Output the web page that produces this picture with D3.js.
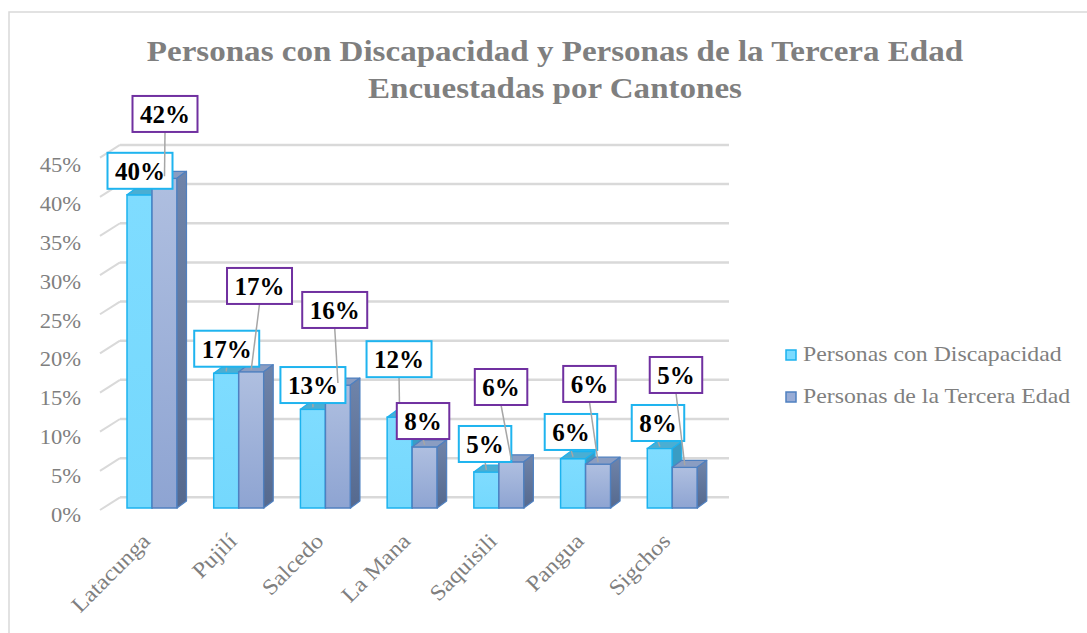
<!DOCTYPE html>
<html>
<head>
<meta charset="utf-8">
<script src="https://cdn.jsdelivr.net/npm/d3@7"></script>
<style>
  html, body { margin: 0; padding: 0; background: #fff; }
  svg { display: block; }
</style>
</head>
<body>
<svg id="chart" width="1087" height="633"></svg>
<script>
// ---------- data ----------
const categories = ["Latacunga", "Pujilí", "Salcedo", "La Mana", "Saquisili", "Pangua", "Sigchos"];
const seriesNames = ["Personas con Discapacidad", "Personas de la Tercera Edad"];
const discapacidad = [40.0, 17.2, 12.6, 11.6, 4.6, 6.3, 7.6];
const terceraEdad = [42.1, 17.4, 15.7, 7.8, 5.9, 5.6, 5.2];
const yTicks = [0, 5, 10, 15, 20, 25, 30, 35, 40, 45];
const titleLines = ["Personas con Discapacidad y Personas de la Tercera Edad", "Encuestadas por Cantones"];

// ---------- layout (label placement, relative to bar top) ----------
const labelOffsetsDisc = [[0.5,-24],[0.5,-24.6],[0,-24.3],[-0.6,-58],[-1.3,-28],[-2.1,-26.7],[-1.8,-25.5]];
const labelOffsetsTerc = [[0.5,-64.4],[8.3,-85.8],[-3.2,-75.1],[-1.6,-25.9],[-10.3,-74.8],[-8.6,-80.2],[-8.8,-92.3]];

const svg = d3.select("#chart");
const FONT = "'Liberation Serif', 'Times New Roman', serif";
const GREY = "#7f7f7f";
const SX = 1.1; // horizontal stretch of text as in the reference

function stretch(sel, factor) {
  sel.each(function() {
    const w = this.getComputedTextLength();
    d3.select(this).attr("textLength", w * factor).attr("lengthAdjust", "spacingAndGlyphs");
  });
}

// chart border
svg.append("rect").attr("x", 9).attr("y", 12).attr("width", 1200).attr("height", 800)
  .attr("fill", "none").attr("stroke", "#d9d9d9").attr("stroke-width", 1.5);

// ---------- scales ----------
const x = d3.scaleBand().domain(categories).range([100, 707]).paddingInner(0).paddingOuter(0);
const xs = d3.scaleBand().domain(seriesNames).range([0, 50]);
const groupShift = 27;
const y = d3.scaleLinear().domain([0, 45]).range([508, 508 - 45 * 7.83]);
const yGrid = d3.scaleLinear().domain([0, 45]).range([497.3, 497.3 - 45 * 7.83]);
const yLab = d3.scaleLinear().domain([0, 45]).range([515, 515 - 45 * 7.78]);
const wallDX = 20, wallDY = -12.7;
const depthDX = 9.5, depthDY = -7;

// ---------- grid (back wall + side wall) ----------
const grid = svg.append("g");
grid.selectAll("line.back").data(yTicks).join("line")
  .attr("x1", 100 + wallDX).attr("x2", 729)
  .attr("y1", d => yGrid(d)).attr("y2", d => yGrid(d))
  .attr("stroke", "#d9d9d9").attr("stroke-width", 2.5);
grid.selectAll("line.side").data(yTicks).join("line")
  .attr("x1", 100).attr("x2", 100 + wallDX)
  .attr("y1", d => yGrid(d) - wallDY).attr("y2", d => yGrid(d))
  .attr("stroke", "#d9d9d9").attr("stroke-width", 2);

// ---------- y axis labels ----------
const yAxis = d3.axisLeft(yLab).tickValues(yTicks).tickFormat(d => d + "%").tickSize(0).tickPadding(0);
const gy = svg.append("g").attr("transform", "translate(81,0)").call(yAxis);
gy.select(".domain").remove();
gy.selectAll("text").attr("font-family", FONT).attr("font-size", 20.5).attr("fill", GREY);
stretch(gy.selectAll("text"), SX);

// ---------- gradients ----------
const defs = svg.append("defs");
function grad(id, c1, c2) {
  const g = defs.append("linearGradient").attr("id", id).attr("x1", 0).attr("y1", 0).attr("x2", 0).attr("y2", 1);
  g.append("stop").attr("offset", "0%").attr("stop-color", c1);
  g.append("stop").attr("offset", "100%").attr("stop-color", c2);
}
grad("g2front", "#afbfe0", "#8ea4d2");
grad("g2side", "#6f84aa", "#55698e");
grad("g1front", "#7fdcff", "#74d8fd");

const seriesStyle = [
  { front: "url(#g1front)", top: "#4aaed3", side: "#3a9cc4", stroke: "#1cb2ee", label: "#1fb4ef" },
  { front: "url(#g2front)", top: "#8a9dc2", side: "url(#g2side)", stroke: "#4f80c0", label: "#7030a0" }
];

const data = [discapacidad, terceraEdad];

// ---------- bars ----------
const bars = svg.append("g");
categories.forEach((c, i) => {
  seriesNames.forEach((s, si) => {
    const v = data[si][i];
    const x0 = x(c) + groupShift + xs(s);
    const w = xs.bandwidth();
    const yt = y(v), yb = y(0);
    const st = seriesStyle[si];
    const g = bars.append("g");
    g.append("rect").attr("x", x0).attr("y", yt).attr("width", w).attr("height", yb - yt)
      .attr("fill", st.front).attr("stroke", st.stroke).attr("stroke-width", 1.5);
    g.append("path")
      .attr("d", `M${x0},${yt} L${x0 + depthDX},${yt + depthDY} L${x0 + w + depthDX},${yt + depthDY} L${x0 + w},${yt} Z`)
      .attr("fill", st.top).attr("stroke", st.stroke).attr("stroke-width", 1.2).attr("stroke-linejoin", "round");
    g.append("path")
      .attr("d", `M${x0 + w},${yt} L${x0 + w + depthDX},${yt + depthDY} L${x0 + w + depthDX},${yb + depthDY} L${x0 + w},${yb} Z`)
      .attr("fill", st.side).attr("stroke", st.stroke).attr("stroke-width", 1.2).attr("stroke-linejoin", "round");
  });
});

// ---------- category labels ----------
const gx = svg.append("g");
gx.selectAll("text").data(categories).join("text")
  .attr("transform", d => `translate(${x(d) + groupShift + 19},${537}) rotate(-45)`)
  .attr("text-anchor", "end").attr("dy", "0.35em")
  .attr("font-family", FONT).attr("font-size", 22).attr("fill", GREY)
  .text(d => d);
stretch(gx.selectAll("text"), SX);

// ---------- data labels ----------
const labG = svg.append("g");
const offsets = [labelOffsetsDisc, labelOffsetsTerc];
seriesNames.forEach((s, si) => {
  categories.forEach((c, i) => {
    const v = data[si][i];
    const cx = x(c) + groupShift + xs(s) + xs.bandwidth() / 2;
    const yt = y(v);
    const [dx, dy] = offsets[si][i];
    const lx = cx + dx, ly = yt + dy;
    const txt = Math.round(v) + "%";
    const g = labG.append("g");
    const t = g.append("text").attr("x", lx).attr("y", ly + 8.8).attr("text-anchor", "middle")
      .attr("font-family", FONT).attr("font-weight", "bold").attr("font-size", 25).attr("fill", "#000")
      .text(txt);
    const tw = t.node().getComputedTextLength();
    const bw = tw + 15, bh = 36;
    if (yt - (ly + bh / 2) > 6) {
      g.insert("line", "text").attr("x1", lx).attr("y1", ly + bh / 2).attr("x2", cx).attr("y2", yt - 2)
        .attr("stroke", "#a6a6a6").attr("stroke-width", 1.5);
    }
    g.insert("rect", "text").attr("x", lx - bw / 2).attr("y", ly - bh / 2).attr("width", bw).attr("height", bh)
      .attr("fill", "#fff").attr("stroke", seriesStyle[si].label).attr("stroke-width", 2);
  });
});

// ---------- title ----------
const tg = svg.append("g");
tg.selectAll("text").data(titleLines).join("text")
  .attr("x", 555).attr("y", (d, i) => 61 + i * 37)
  .attr("text-anchor", "middle").attr("font-family", FONT).attr("font-weight", "bold")
  .attr("font-size", 29.5).attr("fill", GREY).text(d => d);
stretch(tg.selectAll("text"), 1.12);

// ---------- legend ----------
const lg = svg.append("g");
seriesNames.forEach((s, si) => {
  const yy = 350 + si * 42;
  lg.append("rect").attr("x", 786).attr("y", yy).attr("width", 10).attr("height", 10)
    .attr("fill", si === 0 ? "#7bdbff" : "#98acd6").attr("stroke", seriesStyle[si].stroke).attr("stroke-width", 1.5);
  lg.append("text").attr("x", 803).attr("y", yy + 10.5)
    .attr("font-family", FONT).attr("font-size", 22).attr("fill", GREY).text(s);
});
stretch(lg.selectAll("text"), 1.08);
</script>
</body>
</html>
